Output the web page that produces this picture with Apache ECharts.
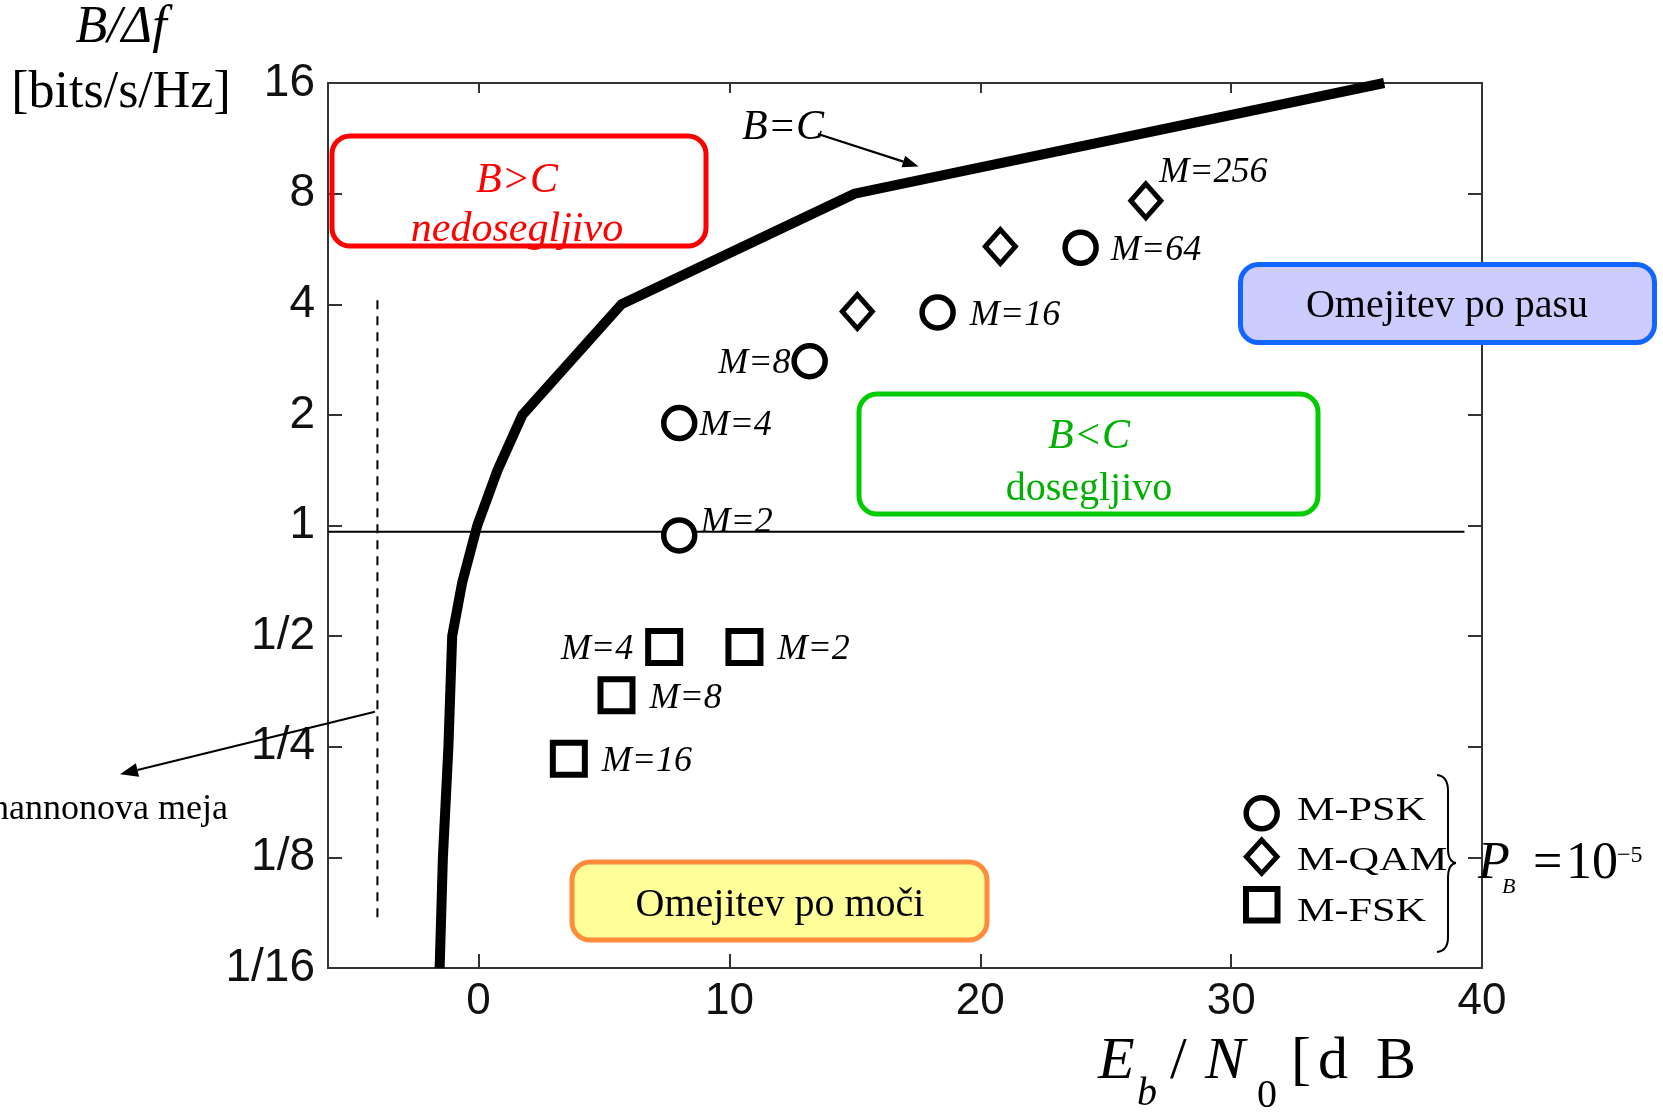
<!DOCTYPE html>
<html><head><meta charset="utf-8">
<script src="https://cdn.jsdelivr.net/npm/echarts@6/dist/echarts.min.js"></script>
<style>html,body{margin:0;padding:0;background:#fff}#c{width:1663px;height:1114px}</style>
</head><body><div id="c"></div>
<script>
// ---------- data ----------
const xTicks = [0, 10, 20, 30, 40];
const yTicks = [0.0625, 0.125, 0.25, 0.5, 1, 2, 4, 8, 16];
const yTickLabels = ['1/16', '1/8', '1/4', '1/2', '1', '2', '4', '8', '16'];

// B = C capacity boundary (Eb/N0 in dB, bits/s/Hz)
const capacityEbN0 = [-1.55, -1.42, -1.2, -1.05, -0.65, -0.05, 0.75, 1.75, 5.7, 15.0, 36.1];
const capacityRate = [0.0625, 0.125, 0.25, 0.5, 0.7, 1, 1.41, 2, 4, 8, 16];

// M-PSK (circles)
const pskNames = ['M=2', 'M=4', 'M=8', 'M=16', 'M=64'];
const pskEbN0 = [8.0, 8.0, 13.2, 18.3, 24.0];
const pskRate = [0.94, 1.9, 2.8, 3.8, 5.7];

// M-QAM (diamonds)
const qamNames = ['', '', 'M=256'];
const qamEbN0 = [15.1, 20.8, 26.6];
const qamRate = [3.82, 5.74, 7.65];

// M-FSK (squares)
const fskNames = ['M=2', 'M=4', 'M=8', 'M=16'];
const fskEbN0 = [10.6, 7.4, 5.5, 3.6];
const fskRate = [0.467, 0.467, 0.345, 0.232];

// Shannon limit marker (dashed) and the unity reference line
const shannonLimitEbN0 = -4.03;
const shannonLimitRange = [0.084, 4.1];
const unityLineRate = 0.962;
const unityLineRange = [-6, 39.3];

// ---------- styling helpers ----------
const SERIF = "'Liberation Serif','Times New Roman',serif";
const SANS = "'Liberation Sans',Arial,sans-serif";

function zip(a, b) { return a.map((v, i) => [v, b[i]]); }

// label placement per point (layout only)
const pskLabelPos = [
  { position: 'right', distance: 3, offset: [0, -13] },
  { position: 'right', distance: 2, offset: [0, 2] },
  { position: 'left', distance: 1, offset: [0, 2] },
  { position: 'right', distance: 14, offset: [0, 3] },
  { position: 'right', distance: 12, offset: [0, 3] }
];
const qamLabelPos = [{}, {}, { position: 'right', distance: 4, offset: [-8, -28] }];
const fskLabelPos = [
  { position: 'right', distance: 14, offset: [0, 3] },
  { position: 'left', distance: 12, offset: [0, 3] },
  { position: 'right', distance: 14, offset: [0, 3] },
  { position: 'right', distance: 14, offset: [0, 3] }
];

function pts(xs, ys, names, pos) {
  return xs.map((x, i) => ({
    value: [x, ys[i]],
    name: names[i],
    label: Object.assign({ show: !!names[i] }, pos[i] || {})
  }));
}

const labelStyle = {
  show: true, formatter: p => p.name, color: '#000',
  fontFamily: SERIF, fontStyle: 'italic', fontSize: 36
};

const chart = echarts.init(document.getElementById('c'), null, { renderer: 'canvas' });

const xCommon = {
  type: 'value', min: -6, max: 40,
  axisLine: { show: true, onZero: false, lineStyle: { color: '#333', width: 2 } },
  splitLine: { show: false }
};
const yCommon = {
  type: 'log', logBase: 2, min: 0.0625, max: 16,
  axisLine: { show: true, onZero: false, lineStyle: { color: '#333', width: 2 } },
  splitLine: { show: false }, minorTick: { show: false }
};

chart.setOption({
  animation: false,
  backgroundColor: '#fff',
  grid: { left: 328, right: 181, top: 83, bottom: 146, containLabel: false },
  xAxis: [
    Object.assign({}, xCommon, {
      position: 'bottom',
      axisTick: { show: true, inside: true, length: 14, customValues: xTicks, lineStyle: { color: '#333', width: 2 } },
      axisLabel: { show: true, customValues: xTicks, margin: 12, color: '#111', fontFamily: SANS, fontSize: 44 }
    }),
    Object.assign({}, xCommon, {
      position: 'top',
      axisTick: { show: true, inside: true, length: 10, customValues: xTicks, lineStyle: { color: '#333', width: 2 } },
      axisLabel: { show: false }
    })
  ],
  yAxis: [
    Object.assign({}, yCommon, {
      position: 'left',
      axisTick: { show: true, inside: true, length: 14, customValues: yTicks, lineStyle: { color: '#333', width: 2 } },
      axisLabel: {
        show: true, customValues: yTicks, margin: 13, color: '#111', fontFamily: SANS, fontSize: 46,
        formatter: v => { const i = yTicks.findIndex(t => Math.abs(t - v) < 1e-9); return i >= 0 ? yTickLabels[i] : ''; }
      }
    }),
    Object.assign({}, yCommon, {
      position: 'right',
      axisTick: { show: true, inside: true, length: 14, customValues: yTicks, lineStyle: { color: '#333', width: 2 } },
      axisLabel: { show: false }
    })
  ],
  series: [
    {
      type: 'line', name: 'B=C', data: zip(capacityEbN0, capacityRate),
      showSymbol: false, symbol: 'none', z: 5,
      lineStyle: { color: '#000', width: 10, join: 'round' }
    },
    {
      type: 'line', name: 'shannon', symbol: 'none', z: 4,
      data: [[shannonLimitEbN0, shannonLimitRange[1]], [shannonLimitEbN0, shannonLimitRange[0]]],
      lineStyle: { color: '#000', width: 2, type: [9, 7] }
    },
    {
      type: 'line', name: 'unity', symbol: 'none', z: 4,
      data: [[unityLineRange[0], unityLineRate], [unityLineRange[1], unityLineRate]],
      lineStyle: { color: '#000', width: 2 }
    },
    {
      type: 'scatter', name: 'M-PSK', symbol: 'circle', symbolSize: 31, z: 6,
      itemStyle: { color: '#fff', borderColor: '#000', borderWidth: 5.5, opacity: 1 },
      label: labelStyle,
      data: pts(pskEbN0, pskRate, pskNames, pskLabelPos)
    },
    {
      type: 'scatter', name: 'M-QAM', symbol: 'diamond', symbolSize: [30, 34], z: 6,
      itemStyle: { color: '#fff', borderColor: '#000', borderWidth: 5, opacity: 1 },
      label: labelStyle,
      data: pts(qamEbN0, qamRate, qamNames, qamLabelPos)
    },
    {
      type: 'scatter', name: 'M-FSK', symbol: 'rect', symbolSize: 32, z: 6,
      itemStyle: { color: '#fff', borderColor: '#000', borderWidth: 6, opacity: 1 },
      label: labelStyle,
      data: pts(fskEbN0, fskRate, fskNames, fskLabelPos)
    }
  ]
});

// ---------- annotations ----------
function txt(text, x, baseline, fs, o) {
  o = o || {};
  const align = o.align || 'left';
  return {
    type: 'text', z: o.z || 120, silent: true,
    scaleX: o.scaleX || 1, originX: x, originY: baseline,
    style: {
      text: text, x: x, y: baseline - 0.34 * fs,
      font: (o.italic ? 'italic ' : '') + fs + 'px ' + (o.family || SERIF),
      fill: o.color || '#000',
      textAlign: align, align: align,
      textVerticalAlign: 'middle', verticalAlign: 'middle'
    }
  };
}
function seg(x1, y1, x2, y2, w) {
  return { type: 'line', z: 110, silent: true, shape: { x1: x1, y1: y1, x2: x2, y2: y2 }, style: { stroke: '#000', lineWidth: w } };
}
function curve(x1, y1, cx, cy, x2, y2, w) {
  return { type: 'bezierCurve', z: 110, silent: true, shape: { x1: x1, y1: y1, cpx1: cx, cpy1: cy, x2: x2, y2: y2 }, style: { stroke: '#000', lineWidth: w, fill: null } };
}
function arrow(x1, y1, x2, y2, len, hw, w) {
  const dx = x2 - x1, dy = y2 - y1, L = Math.hypot(dx, dy), ux = dx / L, uy = dy / L;
  const bx = x2 - len * ux, by = y2 - len * uy, px = -uy, py = ux;
  return [
    seg(x1, y1, bx, by, w),
    { type: 'polygon', z: 110, silent: true, shape: { points: [[x2, y2], [bx + hw * px, by + hw * py], [bx - hw * px, by - hw * py]] }, style: { fill: '#000' } }
  ];
}
function box(x, y, w, h, fill, stroke) {
  return { type: 'rect', z: 100, silent: true, shape: { x: x, y: y, width: w, height: h, r: 18 },
    style: { fill: fill, stroke: stroke, lineWidth: 5 } };
}

const g = [];
// axis titles
g.push(txt('B/Δf', 121, 46, 52, { italic: true, align: 'center' }));
g.push(txt('[bits/s/Hz]', 121, 111, 52, { align: 'center' }));
g.push(txt('E', 1098, 1083, 60, { italic: true }));
g.push(txt('b', 1137, 1108, 40, { italic: true }));
g.push(txt('/', 1170, 1083, 60));
g.push(txt('N', 1205, 1083, 60, { italic: true }));
g.push(txt('0', 1257, 1110, 40));
g.push(txt('[', 1291, 1083, 60));
g.push(txt('d', 1318, 1083, 60));
g.push(txt('B', 1376, 1083, 60));

// region boxes
g.push(box(332, 136, 374, 110, 'rgba(255,255,255,0)', '#ff0000'));
g.push(txt('B>C', 517, 195, 42, { italic: true, align: 'center', color: '#ff0000' }));
g.push(txt('nedosegljivo', 517, 244, 42, { italic: true, align: 'center', color: '#ff0000' }));

g.push(box(859, 394, 459, 120, 'rgba(255,255,255,0)', '#00cc00'));
g.push(txt('B<C', 1089, 451, 42, { italic: true, align: 'center', color: '#00b000' }));
g.push(txt('dosegljivo', 1089, 503, 40, { align: 'center', color: '#00b000' }));

g.push(box(1240.5, 264.5, 414, 78, '#ccccff', '#1166ff'));
g.push(txt('Omejitev po pasu', 1447, 320, 40, { align: 'center' }));

g.push(box(572, 862, 415, 78, '#ffff99', '#ff8c3c'));
g.push(txt('Omejitev po moči', 780, 919, 40, { align: 'center' }));

// B=C pointer
g.push(txt('B=C', 742, 142, 42, { italic: true }));
arrow(818, 134, 918.6, 166.5, 16, 6, 2.2).forEach(e => g.push(e));

// Shannon limit pointer
arrow(375, 711.7, 120, 774.3, 18, 7, 2.2).forEach(e => g.push(e));
g.push(txt('Shannonova meja', 228, 822, 36, { align: 'right' }));

// legend
g.push({ type: 'circle', z: 120, silent: true, shape: { cx: 1261.7, cy: 813.3, r: 15.5 }, style: { fill: '#fff', stroke: '#000', lineWidth: 5.5 } });
g.push({ type: 'polygon', z: 120, silent: true, shape: { points: [[1261.7, 840], [1277, 856.7], [1261.7, 873.4], [1246.4, 856.7]] }, style: { fill: '#fff', stroke: '#000', lineWidth: 5 } });
g.push({ type: 'rect', z: 120, silent: true, shape: { x: 1246, y: 889, width: 31.5, height: 31.5 }, style: { fill: '#fff', stroke: '#000', lineWidth: 6 } });
g.push(txt('M-PSK', 1297, 823, 33, { scaleX: 1.28 }));
g.push(txt('M-QAM', 1297, 873, 33, { scaleX: 1.28 }));
g.push(txt('M-FSK', 1297, 924, 33, { scaleX: 1.28 }));
// right brace
g.push(curve(1437, 775, 1448, 776, 1448, 791, 2));
g.push(seg(1448, 790, 1448, 849, 2));
g.push(curve(1448, 848, 1448, 862, 1456, 863, 2));
g.push(curve(1456, 863, 1448, 864, 1448, 878, 2));
g.push(seg(1448, 877, 1448, 938, 2));
g.push(curve(1448, 937, 1448, 951, 1437, 952, 2));

// P_B = 10^-5
g.push(txt('P', 1478, 882, 52, { italic: true }));
g.push(txt('B', 1502, 895, 22, { italic: true }));
g.push(txt('=', 1533, 882, 52));
g.push(txt('1', 1566, 882, 52));
g.push(txt('0', 1592, 882, 52));
g.push(txt('−5', 1617, 864, 24));

chart.setOption({ graphic: { elements: g } });
</script>
</body></html>
